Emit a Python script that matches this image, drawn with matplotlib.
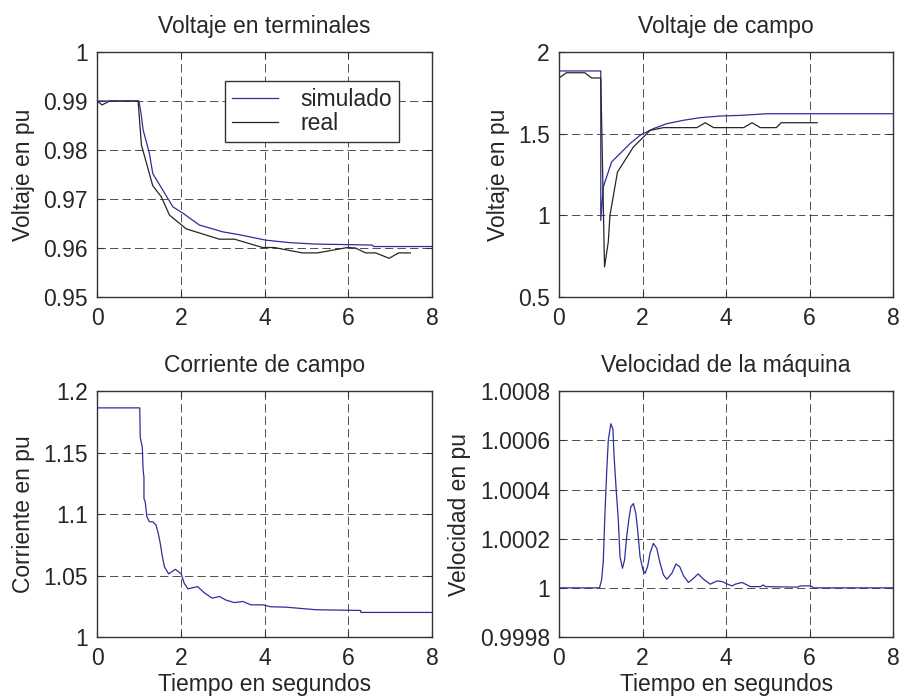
import matplotlib
matplotlib.use("Agg")
import matplotlib.pyplot as plt
from matplotlib.ticker import FormatStrFormatter

plt.rcParams['font.family'] = ['Liberation Sans', 'DejaVu Sans']

# Voltaje en terminales
vt_sim_t = [0, 1.0, 1.05, 1.1, 1.25, 1.33, 1.57, 1.81, 2.05, 2.44, 3.0, 3.4, 4.03, 4.59, 5.22, 6.57, 6.6, 8]
vt_sim_v = [0.99, 0.99, 0.9875, 0.9841, 0.9793, 0.9752, 0.9718, 0.9684, 0.9671, 0.9647, 0.9633, 0.9627,
            0.9616, 0.9611, 0.9608, 0.9606, 0.9603, 0.9603]
vt_real_t = [0, 0.12, 0.3, 0.98, 1.06, 1.33, 1.53, 1.73, 2.13, 2.92, 3.28, 3.95, 4.23, 4.9, 5.26, 5.98,
             6.17, 6.41, 6.65, 6.97, 7.2, 7.48]
vt_real_v = [0.99, 0.9892, 0.99, 0.99, 0.981, 0.9727, 0.9705, 0.9667, 0.9639, 0.9618, 0.9618, 0.9601,
             0.9601, 0.959, 0.959, 0.9601, 0.96, 0.959, 0.959, 0.9579, 0.959, 0.959]

# Voltaje de campo
vf_sim_t = [0, 1.0, 1.0, 1.06, 1.14, 1.26, 1.46, 1.7, 1.94, 2.26, 2.58, 2.98, 3.38, 3.86, 4.34, 4.98, 8]
vf_sim_v = [1.884, 1.884, 0.969, 1.173, 1.235, 1.327, 1.378, 1.439, 1.49, 1.531, 1.561, 1.582, 1.598,
            1.608, 1.612, 1.622, 1.622]
vf_real_t = [0, 0.18, 0.62, 0.78, 1.0, 1.09, 1.18, 1.22, 1.4, 1.78, 2.18, 2.5, 3.3, 3.5, 3.7, 4.42,
             4.62, 4.82, 5.2, 5.32, 6.18]
vf_real_v = [1.841, 1.873, 1.873, 1.841, 1.841, 0.684, 0.837, 1.0, 1.265, 1.418, 1.52, 1.537, 1.537,
             1.567, 1.537, 1.537, 1.567, 1.537, 1.537, 1.567, 1.567]

# Corriente de campo
if_t = [0, 1.02, 1.03, 1.08, 1.1, 1.12, 1.12, 1.15, 1.19, 1.25, 1.33, 1.41, 1.47, 1.51, 1.56, 1.61,
        1.71, 1.87, 2.01, 2.08, 2.17, 2.4, 2.56, 2.75, 2.92, 3.08, 3.28, 3.48, 3.67, 3.95, 4.15, 4.5,
        5.22, 6.29, 6.3, 8]
if_v = [1.1865, 1.1865, 1.1627, 1.1546, 1.1357, 1.130, 1.1127, 1.110, 1.0978, 1.0938, 1.0938, 1.091,
        1.083, 1.076, 1.0654, 1.057, 1.0514, 1.0551, 1.0514, 1.0438, 1.0392, 1.041, 1.036, 1.0316,
        1.033, 1.030, 1.028, 1.0289, 1.0262, 1.0262, 1.0246, 1.0243, 1.0222, 1.0216, 1.020, 1.020]

# Velocidad de la maquina (desviacion en unidades de 1e-4 pu)
w_t = [0, 0.97, 1.02, 1.06, 1.1, 1.14, 1.18, 1.24, 1.29, 1.32, 1.37, 1.42, 1.46, 1.52, 1.57, 1.62,
       1.67, 1.72, 1.78, 1.84, 1.89, 1.94, 2.01, 2.06, 2.12, 2.18, 2.26, 2.34, 2.42, 2.5, 2.58, 2.7,
       2.8, 2.89, 2.98, 3.1, 3.22, 3.33, 3.46, 3.62, 3.78, 3.9, 4.02, 4.14, 4.22, 4.38, 4.5, 4.58,
       4.82, 4.89, 4.94, 5.7, 5.78, 6.02, 6.1, 8]
w_dev = [0, 0, 0.32, 1.07, 3.03, 4.65, 6.0, 6.68, 6.47, 5.32, 3.97, 2.76, 1.27, 0.80, 1.14, 2.08,
         2.76, 3.30, 3.43, 3.03, 2.22, 1.27, 0.73, 0.59, 0.86, 1.41, 1.81, 1.61, 1.0, 0.53, 0.35, 0.59,
         0.97, 0.86, 0.49, 0.22, 0.39, 0.57, 0.35, 0.15, 0.28, 0.26, 0.16, 0.08, 0.15, 0.22, 0.12, 0.05,
         0.05, 0.12, 0.05, 0.03, 0.08, 0.08, 0, 0]
w_v = [1 + d * 1e-4 for d in w_dev]

x_ticks = [0, 2, 4, 6, 8]
vt_ticks = [0.95, 0.96, 0.97, 0.98, 0.99, 1]
vf_ticks = [0.5, 1, 1.5, 2]
if_ticks = [1, 1.05, 1.1, 1.15, 1.2]
w_ticks = [0.9998, 1, 1.0002, 1.0004, 1.0006, 1.0008]

blue = '#2e2e9c'
black = '#262626'
txt = '#262626'
fs = 16.5

fig = plt.figure(figsize=(9.01, 6.98), dpi=100)
pos = [[0.1077, 0.5745, 0.372, 0.351],
       [0.6204, 0.5745, 0.371, 0.351],
       [0.1077, 0.0874, 0.372, 0.352],
       [0.6204, 0.0874, 0.371, 0.352]]
axs = [fig.add_axes(p) for p in pos]


def style(ax, yticks, title, ylabel, fmt='%g'):
    ax.set_xlim(0, 8)
    ax.set_ylim(yticks[0], yticks[-1])
    ax.set_xticks(x_ticks)
    ax.set_yticks(yticks)
    ax.yaxis.set_major_formatter(FormatStrFormatter(fmt))
    ax.grid(True, color='#333333', linestyle=(0, (10, 5)), linewidth=0.6)
    ax.tick_params(direction='in', length=4.5, top=True, right=True, labelsize=fs,
                   colors='#333333', labelcolor=txt)
    ax.tick_params(axis='x', pad=7)
    ax.tick_params(axis='y', pad=6.5)
    for s in ax.spines.values():
        s.set_color('#333333')
        s.set_linewidth(1.0)
    ax.set_title(title, fontsize=fs, color=txt, pad=14)
    ax.set_ylabel(ylabel, fontsize=fs, color=txt, labelpad=6)


ax = axs[0]
ax.plot(vt_sim_t, vt_sim_v, color=blue, lw=0.9, label='simulado')
ax.plot(vt_real_t, vt_real_v, color=black, lw=0.9, label='real')
style(ax, vt_ticks, 'Voltaje en terminales', 'Voltaje en pu')
leg = ax.legend(loc='upper right', bbox_to_anchor=(0.901, 0.882), fontsize=fs, fancybox=False,
                framealpha=1, edgecolor='#333333', borderpad=0.3, handlelength=2.0,
                handletextpad=1.0, labelspacing=0.05, borderaxespad=0)
leg.get_frame().set_linewidth(1.0)
for t in leg.get_texts():
    t.set_color(txt)

ax = axs[1]
ax.plot(vf_sim_t, vf_sim_v, color=blue, lw=0.9)
ax.plot(vf_real_t, vf_real_v, color=black, lw=0.9)
style(ax, vf_ticks, 'Voltaje de campo', 'Voltaje en pu')

ax = axs[2]
ax.plot(if_t, if_v, color=blue, lw=0.9)
style(ax, if_ticks, 'Corriente de campo', 'Corriente en pu')
ax.set_xlabel('Tiempo en segundos', fontsize=fs, color=txt, labelpad=2.5)

ax = axs[3]
ax.plot(w_t, w_v, color=blue, lw=0.9)
style(ax, w_ticks, 'Velocidad de la máquina', 'Velocidad en pu')
ax.set_xlabel('Tiempo en segundos', fontsize=fs, color=txt, labelpad=2.5)

fig.savefig('out.png', dpi=100)
